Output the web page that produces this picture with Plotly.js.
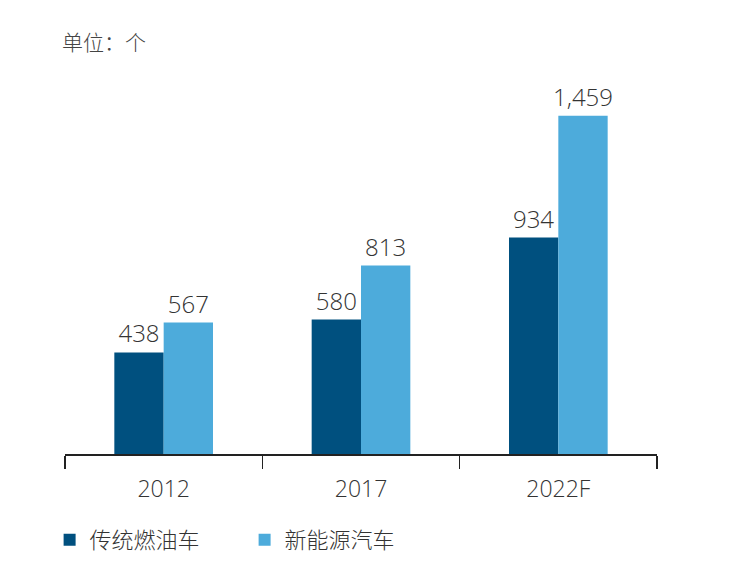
<!DOCTYPE html>
<html>
<head>
<meta charset="utf-8">
<script src="https://cdn.plot.ly/plotly-3.0.1.min.js"></script>
<style>
  html, body { margin: 0; padding: 0; background: #fff; }
  #chart { width: 736px; height: 566px; }
</style>
</head>
<body>
<div id="chart"></div>
<script>
var years = ['2012', '2017', '2022F'];
var fuelCars = [438, 580, 934];
var newEnergyCars = [567, 813, 1459];
var seriesNames = ['传统燃油车', '新能源汽车'];

var fontFamily = '"Open Sans", "Noto Sans CJK SC", sans-serif';

function fmt(v){
	return v.toLocaleString('en-US');
}

var traces = [
	{
		type: 'bar',
		name: seriesNames[0],
		x: years,
		y: fuelCars,
		text: fuelCars.map(fmt),
		textposition: 'outside',
		constraintext: 'none',
		cliponaxis: false,
		textfont: { size: 24, color: '#333333', family: fontFamily, weight: 300 },
		marker: { color: '#00507f' },
		hoverinfo: 'none'
	},
	{
		type: 'bar',
		name: seriesNames[1],
		x: years,
		y: newEnergyCars,
		text: newEnergyCars.map(fmt),
		textposition: 'outside',
		constraintext: 'none',
		cliponaxis: false,
		textfont: { size: 24, color: '#333333', family: fontFamily, weight: 300 },
		marker: { color: '#4dabdb' },
		hoverinfo: 'none'
	}
];

var layout = {
	width: 736,
	height: 566,
	margin: { l: 65, r: 79, t: 60, b: 112, autoexpand: false },
	paper_bgcolor: '#ffffff',
	plot_bgcolor: '#ffffff',
	font: { family: fontFamily, color: '#333333' },
	barmode: 'group',
	bargap: 0.5,
	bargroupgap: 0,
	showlegend: true,
	legend: {
		orientation: 'h',
		x: -0.026,
		xanchor: 'left',
		y: -0.165,
		yanchor: 'top',
		font: { size: 22, color: '#333333', family: fontFamily, weight: 300 },
		itemwidth: 30,
		entrywidth: 150,
		traceorder: 'normal'
	},
	xaxis: {
		type: 'category',
		range: [-0.5, 2.5],
		showline: true,
		linecolor: '#222222',
		linewidth: 1.5,
		ticks: 'outside',
		tickson: 'boundaries',
		ticklen: 13,
		tickwidth: 1.5,
		tickcolor: '#222222',
		ticklabelstandoff: 14,
		showgrid: false,
		tickfont: { size: 23, color: '#333333', family: fontFamily, weight: 300 },
		fixedrange: true
	},
	yaxis: {
		range: [0, 1700],
		visible: false,
		showgrid: false,
		zeroline: false,
		fixedrange: true
	},
	annotations: [
		{
			text: '单位：个',
			xref: 'paper', yref: 'paper',
			x: -0.008, y: 1.046,
			xanchor: 'left', yanchor: 'middle',
			showarrow: false,
			font: { size: 21, color: '#444444', family: fontFamily, weight: 300 }
		}
	]
};

Plotly.newPlot('chart', traces, layout, { staticPlot: true, displayModeBar: false });
</script>
</body>
</html>
